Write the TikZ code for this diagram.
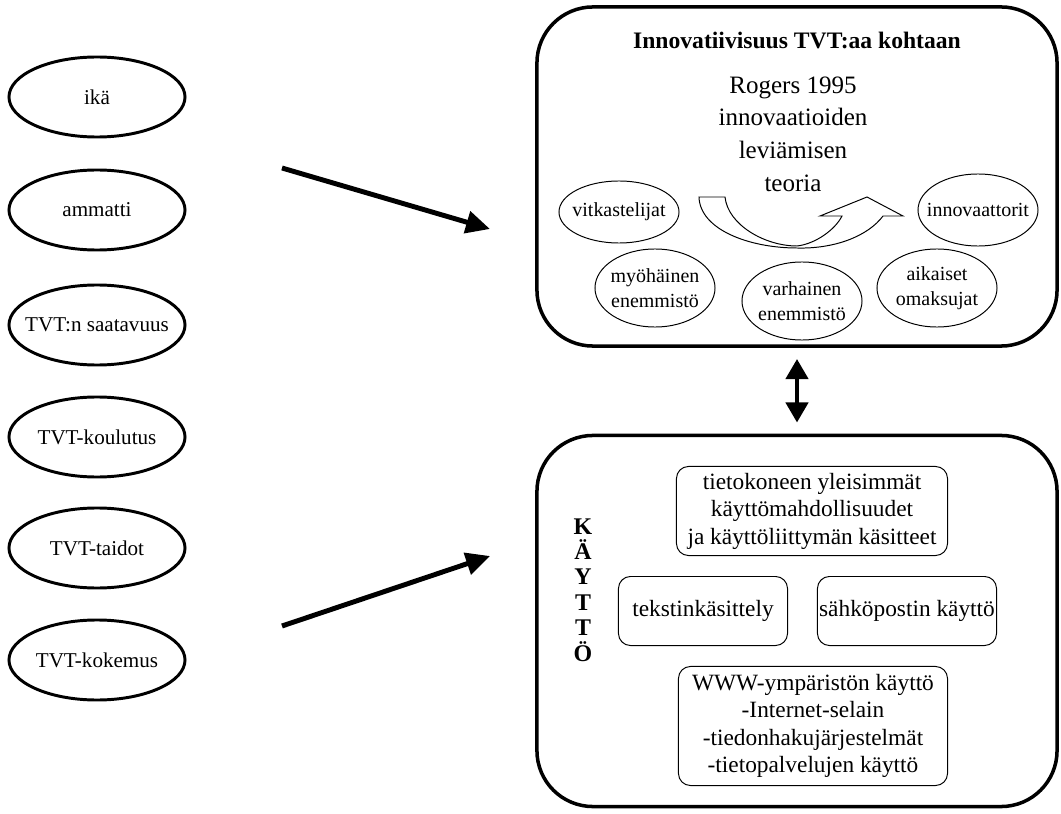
\documentclass[tikz,border=0pt]{standalone}
\usepackage{fontspec}
\setmainfont{Liberation Serif}
\usetikzlibrary{shapes.geometric, arrows.meta, positioning, calc}

\tikzset{
  tekija/.style={draw, ellipse, line width=2.1pt, minimum width=4.4cm, minimum height=2cm, inner sep=0pt},
  tekijafont/.style={font=\fontsize{15}{18}\selectfont},
  ryhma/.style={draw, ellipse, line width=0.7pt, minimum width=3cm, minimum height=1.95cm, inner sep=0pt},
  ryhmafont/.style={font=\fontsize{14.2}{17.5}\selectfont, align=center},
  iso/.style={draw, line width=2.5pt, rounded corners=1.4cm, minimum width=13cm, inner sep=0pt},
  taito/.style={draw, line width=0.7pt, rounded corners=0.3cm, align=center, inner sep=1pt,
    font=\fontsize{16.6}{19.6}\selectfont},
  nuoli/.style={line width=3.5pt, -{Triangle[length=6mm, width=5.5mm]}}
}

\begin{document}
\begin{tikzpicture}[x=0.025cm, y=-0.025cm]
  \useasboundingbox (0,0) rectangle (1061,814);

  \def\ex{97};

  % taustatekijat
  \node[tekija, label={[tekijafont]center:ikä}] (ika) at (\ex,97) {};
  \node[tekija, label={[tekijafont]center:ammatti}] (ammatti) at (\ex,210) {};
  \node[tekija, label={[tekijafont]center:TVT:n saatavuus}] (saatavuus) at (\ex,325) {};
  \node[tekija, label={[tekijafont]center:TVT-koulutus}] (koulutus) at (\ex,437) {};
  \node[tekija, label={[tekijafont]center:TVT-taidot}] (taidot) at (\ex,548) {};
  \node[tekija, label={[tekijafont]center:TVT-kokemus}] (kokemus) at (\ex,660) {};

  % isot laatikot
  \node[iso, minimum height=8.475cm] (innobox) at (797,176.5) {};
  \node[iso, minimum height=9.275cm] (kayttobox) at (797,621) {};

  \node[font=\fontsize{16.8}{20}\selectfont\bfseries] (otsikko) at (797,40) {Innovatiivisuus TVT:aa kohtaan};

  % kaareva nuoli
  \draw[line width=0.7pt, fill=white] (699,197) -- (725,197)
    .. controls (728,225) and (765,246) .. (797,246)
    .. controls (815,244) and (835,230) .. (842,216)
    -- (820,216) -- (867,197) -- (903,216) -- (883,216)
    .. controls (868,236) and (835,249) .. (797,248)
    .. controls (750,248) and (700,230) .. (699,197) -- cycle;

  \node[align=center, font=\fontsize{17.8}{23.2}\selectfont] (rogers) at (793,134)
    {Rogers 1995\\innovaatioiden\\leviämisen\\teoria};

  \node[ryhma, minimum height=1.55cm, label={[ryhmafont]center:vitkastelijat}] (vitk) at (619,212) {};
  \node[ryhma, minimum height=1.8cm, label={[ryhmafont]center:innovaattorit}] (innov) at (978,210) {};
  \node[ryhma, label={[ryhmafont]center:myöhäinen\\enemmistö}] (myoh) at (655,288) {};
  \node[ryhma, label={[ryhmafont]center:varhainen\\enemmistö}] (varh) at (802,301) {};
  \node[ryhma, label={[ryhmafont]center:aikaiset\\omaksujat}] (aik) at (937,288) {};

  % kaytto
  \node[align=center, font=\fontsize{17}{18.1}\selectfont\bfseries] (kaytto) at (583,590)
    {K\\Ä\\Y\\T\\T\\Ö};
  \node[taito, minimum width=6.775cm, minimum height=2.225cm] (yleis) at (812,511)
    {tietokoneen yleisimmät\\käyttömahdollisuudet\\ja käyttöliittymän käsitteet};
  \node[taito, minimum width=4.225cm, minimum height=1.725cm] (teksti) at (703,611) {tekstinkäsittely};
  \node[taito, minimum width=4.475cm, minimum height=1.725cm] (sposti) at (907,611) {sähköpostin käyttö};
  \node[taito, minimum width=6.725cm, minimum height=2.975cm] (www) at (813,726)
    {WWW-ympäristön käyttö\\-Internet-selain\\-tiedonhakujärjestelmät\\-tietopalvelujen käyttö};

  % nuolet
  \coordinate (ylaalku) at (282,168);
  \coordinate (ylakarki) at (490,229);
  \coordinate (alaalku) at (282,626);
  \coordinate (alakarki) at (490,556);
  \draw[nuoli] (ylaalku) -- (ylakarki);
  \draw[nuoli] (alaalku) -- (alakarki);
  \draw[line width=3pt, {Triangle[length=5mm, width=5.5mm]}-{Triangle[length=5mm, width=5.5mm]},
    shorten <=0.28cm, shorten >=0.28cm] (innobox.south) -- (kayttobox.north);
\end{tikzpicture}
\end{document}
